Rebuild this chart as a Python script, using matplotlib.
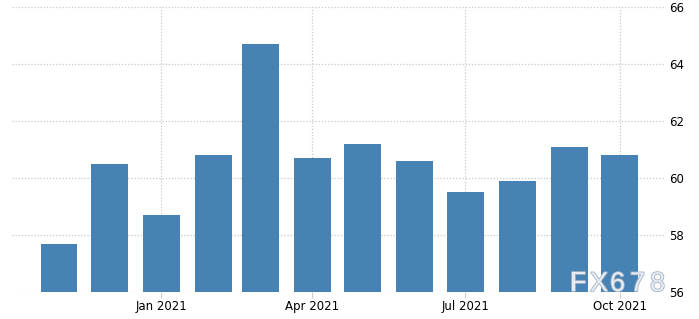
import matplotlib
matplotlib.use("Agg")
import matplotlib.pyplot as plt
import matplotlib.dates as mdates
import matplotlib.patheffects as pe
from datetime import date

months = [date(2020, 11, 1), date(2020, 12, 1), date(2021, 1, 1), date(2021, 2, 1),
          date(2021, 3, 1), date(2021, 4, 1), date(2021, 5, 1), date(2021, 6, 1),
          date(2021, 7, 1), date(2021, 8, 1), date(2021, 9, 1), date(2021, 10, 1)]
values = [57.7, 60.5, 58.7, 60.8, 64.7, 60.7, 61.2, 60.6, 59.5, 59.9, 61.1, 60.8]
tick_dates = [date(2021, 1, 1), date(2021, 4, 1), date(2021, 7, 1), date(2021, 10, 1)]
tick_labels = ["Jan 2021", "Apr 2021", "Jul 2021", "Oct 2021"]
y_ticks = [56, 58, 60, 62, 64, 66]

fig = plt.figure(figsize=(6.99, 3.19), dpi=100)
ax = fig.add_axes([12 / 699, 27 / 319, 653 / 699, 285 / 319])

x = mdates.date2num(months)
ax.bar(x, [v - 56 for v in values], bottom=56, width=22, color="#4682b4", zorder=2)

ax.set_xlim(mdates.date2num(date(2020, 10, 4)), mdates.date2num(date(2021, 10, 28)))
ax.set_ylim(56, 66)

ax.set_xticks(mdates.date2num(tick_dates))
ax.set_xticklabels(tick_labels, fontsize=8.5)
ax.set_yticks(y_ticks)
ax.set_yticklabels([str(t) for t in y_ticks], fontsize=8.5)
ax.yaxis.tick_right()
ax.tick_params(axis="y", length=0, pad=3)
ax.tick_params(axis="x", length=4, color="#cccccc", pad=2)

ax.grid(True, color="#c8c8c8", linestyle=(0, (1, 1.5)), linewidth=0.9, zorder=0)
for s in ax.spines.values():
    s.set_visible(False)

# watermark, letters spaced out
for i, ch in enumerate("FX678"):
    fig.text((570 + i * 20) / 699, (319 - 291) / 319, ch, ha="left", va="baseline",
             fontsize=19.5, color="#e4ebf3", fontfamily="Liberation Sans",
             path_effects=[pe.withStroke(linewidth=1.2, foreground="#a8b4c2")], zorder=5)

fig.savefig("out.png", dpi=100)
